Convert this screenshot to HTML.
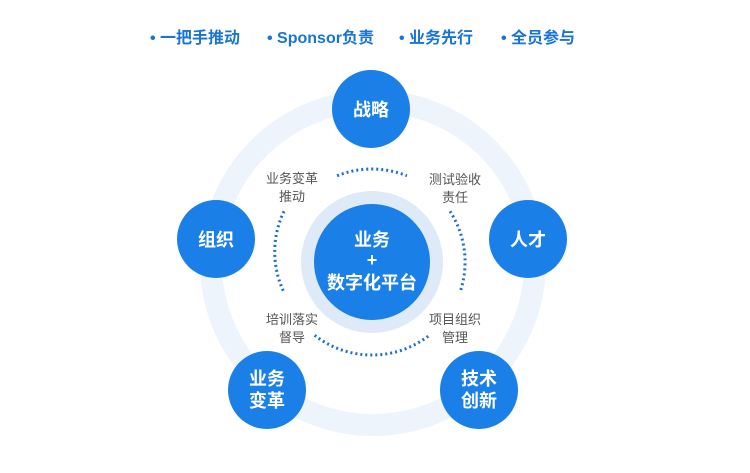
<!DOCTYPE html>
<html><head><meta charset="utf-8"><style>
body{margin:0;width:750px;height:468px;background:#fff;overflow:hidden;font-family:"Liberation Sans","Noto Sans CJK SC",sans-serif}
</style></head><body>
<svg width="750" height="468" xmlns="http://www.w3.org/2000/svg" style="font-family:'Liberation Sans','Noto Sans CJK SC',sans-serif">
<g font-size="16" font-weight="bold" fill="#1a74d4">
<text x="150" y="43">• 一把手推动</text>
<text x="267" y="43">• Sponsor负责</text>
<text x="399" y="43">• 业务先行</text>
<text x="501" y="43">• 全员参与</text>
</g>
<circle cx="373" cy="263" r="162" fill="none" stroke="#eef4fc" stroke-width="22"/>
<g fill="none" stroke="#1a6fd0" stroke-width="3" stroke-dasharray="2 3">
<path d="M337.1,175.8 A93,93 0 0 1 406.9,175.8"/>
<path d="M450,211.3 A93,93 0 0 1 460,292.3"/>
<path d="M284,211.3 A93,93 0 0 0 284,292.3"/>
<path d="M314.7,335.3 A93,93 0 0 0 429.3,335.3"/>
</g>
<circle cx="372" cy="262" r="71" fill="#dfeaf8"/>
<circle cx="372" cy="262" r="58" fill="#1a7fe6"/>
<g fill="#1a7fe6">
<circle cx="371" cy="109" r="39"/>
<circle cx="216" cy="239" r="39"/>
<circle cx="528" cy="239" r="39"/>
<circle cx="267" cy="390" r="39"/>
<circle cx="479" cy="390" r="39"/>
</g>
<g fill="#fff" font-weight="bold" text-anchor="middle" font-size="18">
<text x="371" y="116">战略</text>
<text x="216" y="246">组织</text>
<text x="528" y="246">人才</text>
<text x="267" y="385">业务</text>
<text x="267" y="407">变革</text>
<text x="479" y="385">技术</text>
<text x="479" y="407">创新</text>
<text x="372" y="246">业务</text>
<text x="372" y="266">+</text>
<text x="372" y="289">数字化平台</text>
</g>
<g fill="#555" font-size="13" text-anchor="middle">
<text x="292" y="183">业务变革</text>
<text x="292" y="201">推动</text>
<text x="455" y="184">测试验收</text>
<text x="455" y="202">责任</text>
<text x="292" y="324">培训落实</text>
<text x="292" y="342">督导</text>
<text x="455" y="324">项目组织</text>
<text x="455" y="342">管理</text>
</g>
</svg>
</body></html>
